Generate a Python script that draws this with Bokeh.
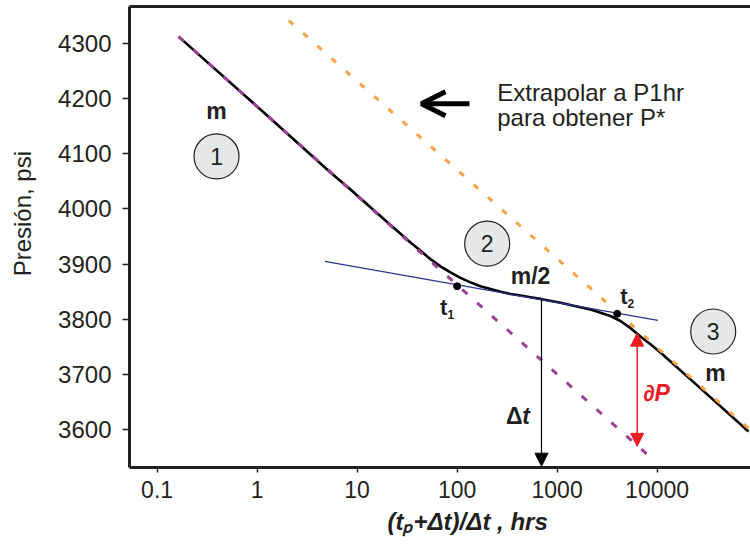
from bokeh.plotting import figure
from bokeh.models import (Range1d, FixedTicker, LogAxis, Label, Arrow, NormalHead,
                          OpenHead, ColumnDataSource, Title)
from bokeh.embed import file_html
from bokeh.resources import INLINE

# ---------------- data ----------------
x_ticks = [0.1, 1, 10, 100, 1000, 10000]
x_tick_labels = ["0.1", "1", "10", "100", "1000", "10000"]
y_ticks = [3600, 3700, 3800, 3900, 4000, 4100, 4200, 4300]

# measured buildup curve: (tp+dt)/dt vs pressure
curve_x = [0.164, 1.08, 5.42, 8.59, 13.6, 21.6, 34.2, 43.1, 54.2, 68.2, 85.9, 108,
           136, 171, 216, 272, 342, 431, 542, 682, 1080, 1710, 2160, 2720, 3420,
           4300, 5420, 6820, 8590, 10800, 27200, 82000]
curve_p = [4312, 4180, 4066, 4035, 4003, 3971, 3939, 3924, 3909, 3896, 3885, 3875,
           3867, 3860, 3855, 3850, 3846, 3843, 3840, 3837, 3830, 3822, 3818, 3812,
           3806, 3797, 3784, 3769, 3755, 3740, 3675, 3597]

# early straight line (slope m), purple dashed
early_x = [0.164, 8590]
early_p = [4312, 3550]
# late straight line (slope m), orange dotted, extrapolated to P*
late_x = [2.08, 85900]
late_p = [4341, 3599]
# middle tangent (slope m/2), blue
mid_x = [4.75, 10200]
mid_p = [3905, 3798]
# t1, t2 points
t_x = [100, 3990]
t_p = [3860, 3810]
# region markers 1, 2, 3
region_x = [0.393, 200, 36400]
region_p = [4095, 3937, 3778]
region_lbl = ["1", "2", "3"]
# delta t arrow and dP arrow
dt_x = 698
dt_p = [3836, 3534]
dp_x = 6320
dp_p = [3775, 3570]

INK = "#231f20"
FONT = "Liberation Sans"
NBSP = "\u00a0"

p = figure(width=750, height=548, x_axis_type="log",
           x_range=Range1d(0.05297, 85900), y_range=Range1d(3531.7, 4366.5),
           output_backend="svg", toolbar_location=None,
           min_border_left=129, min_border_right=0, min_border_top=6,
           min_border_bottom=81)
p.outline_line_color = None
p.xgrid.visible = False
p.ygrid.visible = False
p.background_fill_color = "white"
p.border_fill_color = "white"

for ax in (p.xaxis[0], p.yaxis[0]):
    ax.axis_line_width = 3
    ax.axis_line_color = INK
    ax.major_tick_line_color = INK
    ax.major_tick_line_width = 1.5
    ax.major_tick_in = 0
    ax.minor_tick_line_color = None
    ax.major_label_text_color = INK
    ax.major_label_text_font = FONT

p.xaxis.ticker = FixedTicker(ticks=x_ticks, minor_ticks=[])
p.xaxis.major_label_overrides = {t: l for t, l in zip(x_ticks, x_tick_labels)}
p.xaxis.major_tick_out = 5
p.xaxis.major_label_standoff = 8
p.xaxis.major_label_text_font_size = "23px"
p.yaxis.ticker = FixedTicker(ticks=y_ticks, minor_ticks=[])
p.yaxis.major_tick_out = 7
p.yaxis.major_label_standoff = 11
p.yaxis.major_label_text_font_size = "24px"

# y axis title (leading no-break spaces shift it up like the reference)
p.yaxis.axis_label = NBSP * 7 + "Presión, psi"
p.yaxis.axis_label_text_font = FONT
p.yaxis.axis_label_text_font_size = "24px"
p.yaxis.axis_label_text_font_style = "normal"
p.yaxis.axis_label_text_color = INK
p.yaxis.axis_label_standoff = 19

top = LogAxis(ticker=FixedTicker(ticks=[], minor_ticks=[]),
              major_label_text_font_size="0px", major_tick_out=0, major_tick_in=0,
              minor_tick_out=0, minor_tick_in=0, major_label_standoff=0,
              axis_line_width=3, axis_line_color=INK)
p.add_layout(top, "above")

# x axis title
p.add_layout(Title(text="(tₚ+Δt)/Δt , hrs", align="left", offset=258,
                   text_font=FONT, text_font_size="24px",
                   text_font_style="bold italic", text_color=INK, standoff=10),
             "below")

# ---------------- lines ----------------
p.line(curve_x, curve_p, line_color="black", line_width=2.6)
p.line(mid_x, mid_p, line_color="#2e3192", line_width=1.3)
p.line(early_x, early_p, line_color="#9e3f97", line_width=3, line_dash="7 13")
p.line(late_x, late_p, line_color="#f7a343", line_width=3, line_dash="6 13")
p.scatter(t_x, t_p, size=7, color="black")

# region circles
src = ColumnDataSource(dict(x=region_x, y=region_p, t=region_lbl))
p.scatter("x", "y", source=src, size=45, fill_color="#e6e7e8",
          line_color=INK, line_width=1.2)
p.text("x", "y", text="t", source=src, text_align="center",
       text_baseline="middle", text_font_size="23px", text_color=INK,
       text_font={"value": FONT})


def lab(x, y, text, size=22, style="normal", color=INK, align="center",
        xo=0, yo=0, angle=0.0, baseline="middle"):
    p.add_layout(Label(x=x, y=y, text=text, text_font=FONT,
                       text_font_size=f"{size}px", text_font_style=style,
                       text_color=color, text_align=align,
                       text_baseline=baseline, x_offset=xo, y_offset=yo,
                       angle=angle))


# annotations
lab(0.393, 4178, "m", 23, "bold")
lab(542, 3877.6, "m/2", 23, "bold")
lab(38370, 3703, "m", 23, "bold")
lab(73.6, 3821, "t", 22, "bold")
lab(73.6, 3821, "1", 12, "bold", xo=7, yo=-7)
lab(4645, 3842, "t", 22, "bold")
lab(4645, 3842, "2", 12, "bold", xo=7, yo=-7)
lab(408, 3624.6, "Δ", 23, "bold", xo=-4)
lab(408, 3624.6, "t", 23, "bold italic", xo=8)
lab(9862, 3667, "∂P", 23, "bold italic", color="#ed1c24")
lab(251.8, 4211.3, "Extrapolar a P1hr", 24, align="left")
lab(251.8, 4166, "para obtener P*", 24, align="left")

# arrows
p.add_layout(Arrow(end=OpenHead(size=24, line_width=5, line_color="black"),
                   x_start=133, y_start=4190.3, x_end=44, y_end=4190.3,
                   line_width=5, line_color="black"))
p.add_layout(Arrow(end=NormalHead(size=13, fill_color="black", line_color="black"),
                   x_start=dt_x, y_start=dt_p[0], x_end=dt_x, y_end=dt_p[1],
                   line_width=1.2, line_color="black"))
p.add_layout(Arrow(start=NormalHead(size=13, fill_color="#ed1c24", line_color="#ed1c24"),
                   end=NormalHead(size=13, fill_color="#ed1c24", line_color="#ed1c24"),
                   x_start=dp_x, y_start=dp_p[0], x_end=dp_x, y_end=dp_p[1],
                   line_width=1.5, line_color="#ed1c24"))

open("out.html", "w").write(file_html(p, INLINE))
